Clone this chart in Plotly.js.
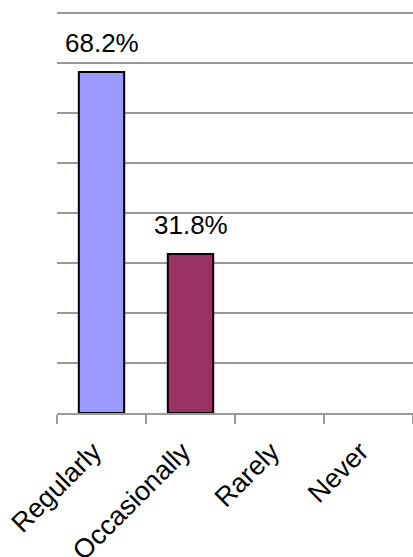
<!DOCTYPE html>
<html>
<head>
<meta charset="utf-8">
<script src="https://cdn.plot.ly/plotly-3.0.1.min.js"></script>
<style>html,body{margin:0;padding:0;background:#fff;}#chart{width:413px;height:557px;}</style>
</head>
<body>
<div id="chart"></div>
<script>
var categories = ["Regularly", "Occasionally", "Rarely", "Never"];
var values = [68.2, 31.8, null, null];
var labels = ["68.2%", "31.8%", "", ""];
var colors = ["#9999FF", "#993366", "#9999FF", "#993366"];

var trace = {
  type: "bar",
  x: categories,
  y: values,
  width: 0.51,
  marker: {color: colors, line: {color: "#000000", width: 2}},
  hoverinfo: "none"
};

var annotations = [];
for (var i = 0; i < categories.length; i++) {
  if (values[i] !== null) {
    annotations.push({
      x: categories[i], y: values[i], text: labels[i],
      showarrow: false, xanchor: "center", yanchor: "bottom", yshift: 12,
      font: {family: "Liberation Sans, Arial, sans-serif", size: 26, color: "#000"}
    });
  }
}

var layout = {
  width: 413, height: 557,
  margin: {l: 57, r: 0, t: 11, b: 144, pad: 0},
  paper_bgcolor: "#fff", plot_bgcolor: "#fff",
  showlegend: false,
  font: {family: "Liberation Sans, Arial, sans-serif", color: "#000"},
  xaxis: {
    type: "category",
    showline: true, linecolor: "#999999", linewidth: 2,
    ticks: "outside", ticklen: 9, tickcolor: "#999999", tickwidth: 2,
    tickson: "boundaries",
    tickangle: -45,
    tickfont: {size: 27, color: "#000"},
    ticklabelstandoff: 10,
    ticklabelshift: -8,
    showgrid: false, zeroline: false
  },
  yaxis: {
    range: [0, 80.4], dtick: 10,
    showgrid: true, gridcolor: "#999999", gridwidth: 2,
    showticklabels: false, ticks: "",
    zeroline: false, showline: false
  },
  annotations: annotations
};

Plotly.newPlot("chart", [trace], layout, {staticPlot: true});
</script>
</body>
</html>
